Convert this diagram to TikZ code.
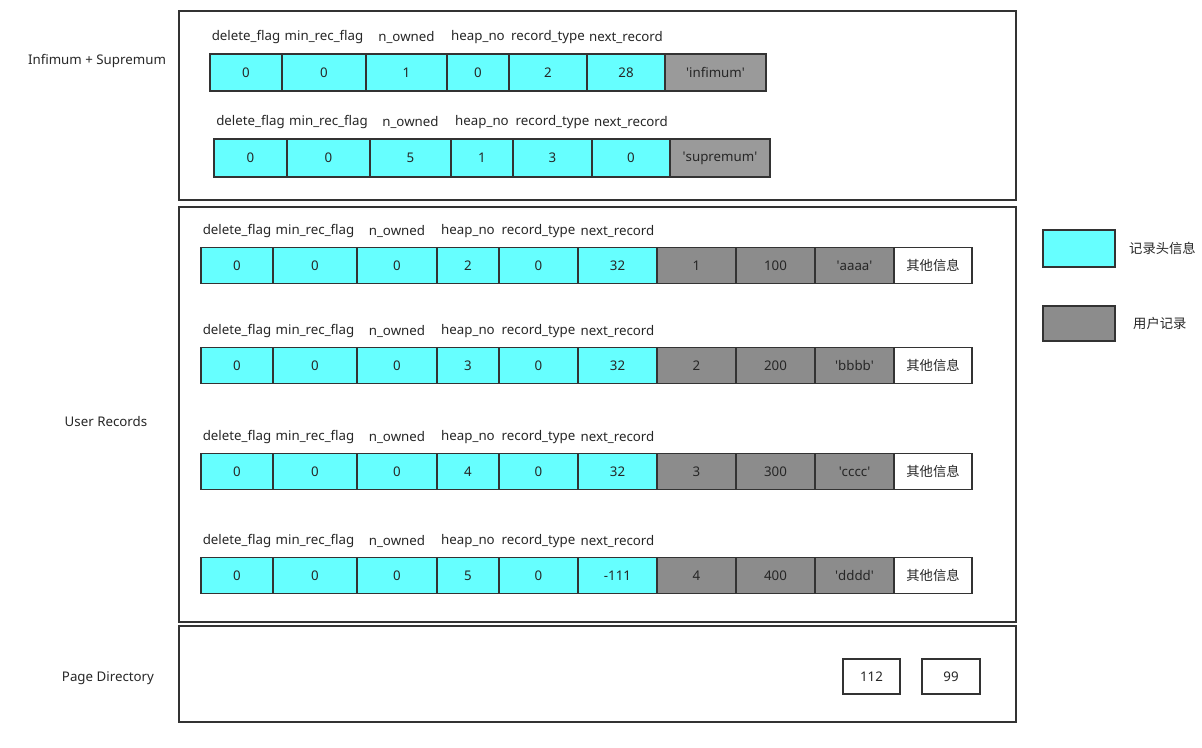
\documentclass[tikz,border=0pt]{standalone}
\usepackage{fontspec}
\setmainfont{Noto Sans}
\newfontfamily\cjk{Noto Sans CJK SC}
\usetikzlibrary{positioning}

\definecolor{headcyan}{HTML}{66FFFF}
\definecolor{usergray}{HTML}{8C8C8C}
\definecolor{infgray}{HTML}{9A9A9A}
\definecolor{edge}{HTML}{333333}
\def\q{\textquotesingle}

\tikzset{
	txt/.style={font=\fontsize{13.3}{15}\selectfont, text=black!85},
	cell/.style={txt, draw=edge, line width=1.4pt, minimum height=36pt, inner sep=0pt, outer sep=0pt},
	head/.style={cell, fill=headcyan},
	body/.style={cell, fill=usergray},
	fld/.style={txt, inner sep=0pt},
	panel/.style={draw=edge, line width=1.4pt},
}

\begin{document}
\begin{tikzpicture}[x=1pt,y=-1pt]
			\useasboundingbox (0,0) rectangle (1202,747);
			
			%Panels
			\draw[panel] (179,11) rectangle (1016,200);
			\draw[panel] (179,207) rectangle (1016,622);
			\draw[panel] (179,626) rectangle (1016,722);
			
			\node[txt] (secA) at (97,61) {Infimum + Supremum};
			\node[txt] (secB) at (106,422) {User Records};
			\node[txt] (secC) at (108,678) {Page Directory};
			
			%Infimum
			\node[head, minimum width=72pt, minimum height=37pt, anchor=west] (i1) at (210,72.5) {0};
			\node[head, minimum width=84pt, minimum height=37pt, right=0pt of i1] (i2) {0};
			\node[head, minimum width=81pt, minimum height=37pt, right=0pt of i2] (i3) {1};
			\node[head, minimum width=62pt, minimum height=37pt, right=0pt of i3] (i4) {0};
			\node[head, minimum width=78pt, minimum height=37pt, right=0pt of i4] (i5) {2};
			\node[head, minimum width=78pt, minimum height=37pt, right=0pt of i5] (i6) {28};
			\node[cell, fill=infgray, minimum width=101pt, minimum height=37pt, right=0pt of i6] (i7) {\q infimum\q};
			
			%Supremum
			\node[head, minimum width=73pt, minimum height=38pt, anchor=west] (s1) at (214,158) {0};
			\node[head, minimum width=83pt, minimum height=38pt, right=0pt of s1] (s2) {0};
			\node[head, minimum width=81pt, minimum height=38pt, right=0pt of s2] (s3) {5};
			\node[head, minimum width=62pt, minimum height=38pt, right=0pt of s3] (s4) {1};
			\node[head, minimum width=79pt, minimum height=38pt, right=0pt of s4] (s5) {3};
			\node[head, minimum width=78pt, minimum height=38pt, right=0pt of s5] (s6) {0};
			\node[cell, fill=infgray, minimum width=100pt, minimum height=38pt, right=0pt of s6] (s7) {\q supremum\q};
			
			\foreach \r in {i,s}{
				\foreach \c/\t in {1/delete\_flag, 2/min\_rec\_flag, 3/n\_owned, 4/heap\_no, 5/record\_type, 6/next\_record}
					\node[fld, above=10pt of \r\c] (\r-h\c) {\t};
			}
			
			%User Records
			\foreach \r/\y/\h/\n/\id/\v/\s in {a/265.5/2/32/1/100/aaaa, b/365.5/3/32/2/200/bbbb, c/471.5/4/32/3/300/cccc, d/575.5/5/-111/4/400/dddd}{
				\node[head, minimum width=72pt, anchor=west] (\r1) at (201,\y) {0};
				\node[head, minimum width=84pt, right=0pt of \r1] (\r2) {0};
				\node[head, minimum width=80pt, right=0pt of \r2] (\r3) {0};
				\node[head, minimum width=62pt, right=0pt of \r3] (\r4) {\h};
				\node[head, minimum width=79pt, right=0pt of \r4] (\r5) {0};
				\node[head, minimum width=79pt, right=0pt of \r5] (\r6) {\n};
				\node[body, minimum width=79pt, right=0pt of \r6] (\r7) {\id};
				\node[body, minimum width=79pt, right=0pt of \r7] (\r8) {\v};
				\node[body, minimum width=79pt, right=0pt of \r8] (\r9) {\q\s\q};
				\node[cell, minimum width=78pt, right=0pt of \r9] (\r10) {\cjk 其他信息};
				\foreach \c/\t in {1/delete\_flag, 2/min\_rec\_flag, 3/n\_owned, 4/heap\_no, 5/record\_type, 6/next\_record}
					\node[fld, above=10pt of \r\c] (\r-h\c) {\t};
			}
			
			%Page Directory
			\node[cell, minimum width=57pt, minimum height=35pt] (p1) at (871.5,676.5) {112};
			\node[cell, minimum width=58pt, minimum height=35pt] (p2) at (951,676.5) {99};
			
			%Legend
			\node[head, minimum width=72pt, minimum height=37pt] (k1) at (1079,248.5) {};
			\node[fld, right=14pt of k1] (k1t) {\cjk 记录头信息};
			\node[body, minimum width=72pt, minimum height=35pt] (k2) at (1079,323.5) {};
			\node[fld, right=18pt of k2] (k2t) {\cjk 用户记录};
			
\end{tikzpicture}
\end{document}
